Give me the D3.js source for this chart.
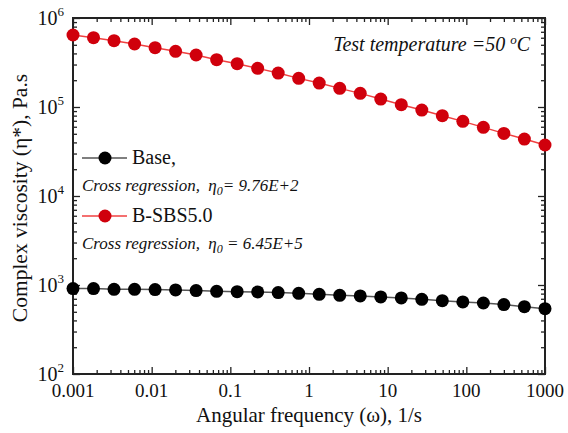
<!DOCTYPE html>
<html><head><meta charset="utf-8">
<script src="https://cdn.jsdelivr.net/npm/d3@7"></script>
<style>body{margin:0;background:#fff}svg{display:block}</style>
</head><body>
<script>
const freq = [0.001,0.001823,0.003324,0.00606,0.01105,0.02014,0.03672,0.06695,0.1221,0.2225,0.4057,0.7396,1.348,2.458,4.481,8.170,14.90,27.16,49.51,90.26,164.6,300.0,546.9,1000];
const baseVisc = [912,912,895,895,888,880,865,850,842,835,821,807,786,766,753,734,715,691,667,645,628,602,571,542];
const sbsVisc = [644000,600800,556000,510000,464000,422000,384000,340000,306600,271700,240800,209800,185900,162000,142300,122900,106100,92450,79850,68950,59030,50540,43650,37390];
const xTicks = [0.001,0.01,0.1,1,10,100,1000];
const xTickLabels = ["0.001","0.01","0.1","1","10","100","1000"];
const yTicks = [100,1000,10000,100000,1000000];
const yExps = ["2","3","4","5","6"];
const seriesNames = ["Base,","B-SBS5.0"];
const crossLabels = [["Cross regression, ","\u03B7","0","= 9.76E+2"],["Cross regression, ","\u03B7","0"," = 6.45E+5"]];

const W=568,H=433, L=73, R=545, T=18, B=374;
const FONT="Liberation Serif";
const svg=d3.select("body").append("svg").attr("width",W).attr("height",H).attr("font-family",FONT);
const x=d3.scaleLog().domain([0.001,1000]).range([L,R]);
const y=d3.scaleLog().domain([100,1000000]).range([B,T]);

const xMinor=[];for(let e=-3;e<3;e++)for(let m=2;m<=9;m++)xMinor.push(m*Math.pow(10,e));
const yMinor=[];for(let e=2;e<6;e++)for(let m=2;m<=9;m++)yMinor.push(m*Math.pow(10,e));

const txt=(sel)=>sel.attr("fill","#111").attr("font-family",FONT);
const at=(px,py)=>`translate(${px},${py}) rotate(0.01)`;
const labels=svg.append("g").attr("font-family",FONT);
labels.selectAll(".xl").data(xTicks).enter().append("text").call(txt).attr("transform",d=>at(x(d),B+23)).attr("text-anchor","middle").attr("font-size",19).text((d,i)=>xTickLabels[i]);
yTicks.forEach((d,i)=>{
  const t=labels.append("text").call(txt).attr("transform",at(L-9,y(d)+7)).attr("text-anchor","end").attr("font-size",20);
  t.append("tspan").text("10");
  t.append("tspan").attr("dy",-9).attr("font-size",13).text(yExps[i]);
});
labels.append("text").call(txt).attr("transform",at((L+R)/2,B+48)).attr("text-anchor","middle").attr("font-size",21).text("Angular frequency (\u03C9), 1/s");
labels.append("text").call(txt).attr("transform",`translate(27,${(T+B)/2+2}) rotate(-90)`).attr("text-anchor","middle").attr("font-size",21.5).text("Complex viscosity (\u03B7*), Pa.s");

function axisStyle(g){g.attr("font-family",FONT);g.select(".domain").remove();g.selectAll("line").attr("stroke","#222").attr("stroke-width",1.3);g.selectAll("text").remove();}
svg.append("g").attr("transform",`translate(0,${B})`).call(d3.axisTop(x).tickValues(xTicks).tickSize(7)).call(axisStyle);
svg.append("g").attr("transform",`translate(0,${B})`).call(d3.axisTop(x).tickValues(xMinor).tickSize(4)).call(axisStyle);
svg.append("g").attr("transform",`translate(0,${T})`).call(d3.axisBottom(x).tickValues(xTicks).tickSize(7)).call(axisStyle);
svg.append("g").attr("transform",`translate(0,${T})`).call(d3.axisBottom(x).tickValues(xMinor).tickSize(4)).call(axisStyle);
svg.append("g").attr("transform",`translate(${L},0)`).call(d3.axisRight(y).tickValues(yTicks).tickSize(7)).call(axisStyle);
svg.append("g").attr("transform",`translate(${L},0)`).call(d3.axisRight(y).tickValues(yMinor).tickSize(4)).call(axisStyle);
svg.append("g").attr("transform",`translate(${R},0)`).call(d3.axisLeft(y).tickValues(yTicks).tickSize(7)).call(axisStyle);
svg.append("g").attr("transform",`translate(${R},0)`).call(d3.axisLeft(y).tickValues(yMinor).tickSize(4)).call(axisStyle);
svg.append("rect").attr("x",L).attr("y",T).attr("width",R-L).attr("height",B-T).attr("fill","none").attr("stroke","#222").attr("stroke-width",2);

const line=d3.line().x((d,i)=>x(freq[i])).y(d=>y(d));
svg.append("path").datum(baseVisc).attr("d",line).attr("fill","none").attr("stroke","#555").attr("stroke-width",1.5);
svg.append("path").datum(sbsVisc).attr("d",line).attr("fill","none").attr("stroke","#f04040").attr("stroke-width",1.5);
svg.selectAll(".bp").data(baseVisc).enter().append("circle").attr("cx",(d,i)=>x(freq[i])).attr("cy",d=>y(d)).attr("r",6.5).attr("fill","#000");
svg.selectAll(".rp").data(sbsVisc).enter().append("circle").attr("cx",(d,i)=>x(freq[i])).attr("cy",d=>y(d)).attr("r",6.5).attr("fill","#d0000c");

const legY=[158,216], legCol=["#555","#f04040"], legMk=["#000","#d0000c"];
const leg=svg.append("g").attr("font-family",FONT);
seriesNames.forEach((n,i)=>{
  leg.append("line").attr("x1",82).attr("x2",127).attr("y1",legY[i]).attr("y2",legY[i]).attr("stroke",legCol[i]).attr("stroke-width",1.5);
  leg.append("circle").attr("cx",105).attr("cy",legY[i]).attr("r",6.5).attr("fill",legMk[i]);
  leg.append("text").call(txt).attr("transform",at(132,legY[i]+6)).attr("font-size",20).text(n);
  const c=crossLabels[i];
  const t=leg.append("text").call(txt).attr("transform",at(82,legY[i]+33)).attr("font-size",17).attr("font-style","italic");
  t.append("tspan").text(c[0]);
  t.append("tspan").attr("dx",4).text(c[1]);
  t.append("tspan").attr("dy",4).attr("font-size",12).text(c[2]);
  t.append("tspan").attr("dy",-4).text(c[3]);
});
const ann=leg.append("text").call(txt).attr("transform",at(530,51)).attr("text-anchor","end").attr("font-size",20).attr("font-style","italic");
ann.append("tspan").text("Test temperature =50 ");
ann.append("tspan").attr("dy",-7).attr("font-size",13).text("o");
ann.append("tspan").attr("dy",7).text("C");
</script>
</body></html>
